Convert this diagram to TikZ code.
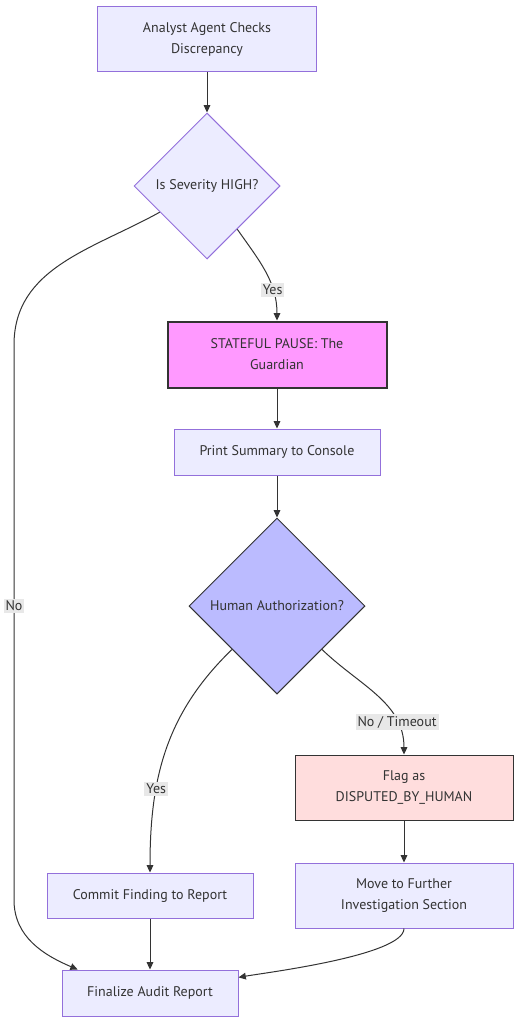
\documentclass[tikz,border=0pt]{standalone}
\usepackage{fontspec}
\setmainfont{PT Sans}
\usetikzlibrary{positioning,shapes.geometric,arrows.meta}
\definecolor{boxfill}{HTML}{ECECFF}
\definecolor{boxline}{HTML}{9370DB}
\definecolor{ink}{HTML}{333333}
\definecolor{pausefill}{HTML}{FF99FF}
\definecolor{authfill}{HTML}{BBBBFF}
\definecolor{flagfill}{HTML}{FFDDDD}
\definecolor{lblfill}{HTML}{E8E8E8}

\begin{document}
\begin{tikzpicture}[x=0.75pt, y=-0.75pt, node distance=31.5pt,
  font=\fontsize{10.5}{15.75}\selectfont,
  box/.style={rectangle, draw=boxline, fill=boxfill, text=ink, align=center, line width=0.75pt, inner sep=0pt},
  ask/.style={diamond, aspect=1, draw=boxline, fill=boxfill, text=ink, align=center, line width=0.75pt, inner sep=0pt},
  lbl/.style={fill=lblfill, text=ink, inner sep=1.5pt},
  >={Triangle[length=5.5pt,width=5pt]}]
\useasboundingbox (0,0) rectangle (520,1024);
\node[box, minimum width=164.25pt, minimum height=48.75pt] (check) at (207,39.5) {Analyst Agent Checks\\Discrepancy};
\node[ask, minimum size=109.5pt, below=30pt of check] (sev) {Is Severity HIGH?};
\node[box, fill=pausefill, draw=ink, line width=1.5pt, minimum width=164.25pt, minimum height=49.5pt, below=45.75pt of sev, xshift=52.5pt] (pause) {STATEFUL PAUSE: The\\Guardian};
\node[box, minimum width=154.5pt, minimum height=34.5pt, below=30pt of pause] (print) {Print Summary to Console};
\node[ask, fill=authfill, draw=ink, minimum size=132pt, below=of print] (auth) {Human Authorization?};
%
\node[box, fill=flagfill, draw=ink, minimum width=163.5pt, minimum height=48.75pt, below=45pt of auth, xshift=95.25pt] (flag) {Flag as\\DISPUTED\_BY\_HUMAN};
\node[box, minimum width=163.5pt, minimum height=48.75pt, below=of flag] (move) {Move to Further\\Investigation Section};
\node[box, minimum width=154.5pt, minimum height=33.75pt, below=133.5pt of auth, xshift=-95.25pt] (commit) {Commit Finding to Report};
\node[box, minimum width=132pt, minimum height=34.5pt, below=38.25pt of commit] (final) {Finalize Audit Report};
%
\coordinate (nobend)  at (14,345);
\coordinate (nobend2) at (14,900);
%
\path[->, color=ink, line width=0.75pt]
	(check) edge (sev)
	(sev.-55) edge[out=-55,in=90] node[lbl,pos=0.7] {Yes} (pause)
	(pause) edge (print)
	(print) edge (auth)
%
	(auth.224) edge[out=224,in=90] node[lbl,pos=0.67] {Yes} (commit)
	(auth.-44) edge[out=-44,in=90] node[lbl,pos=0.76] {No / Timeout} (flag)
%
	(flag) edge (move)
	(commit) edge (final)
	(move) edge[out=-90,in=10,looseness=0.4] (final.10)
; %-draw-%
\draw[->, ink, line width=0.75pt] (sev.209) to[out=209,in=90] (nobend)
	-- node[lbl,pos=0.47] {No} (nobend2) to[out=-90,in=157] (final.162);
\end{tikzpicture}
\end{document}
